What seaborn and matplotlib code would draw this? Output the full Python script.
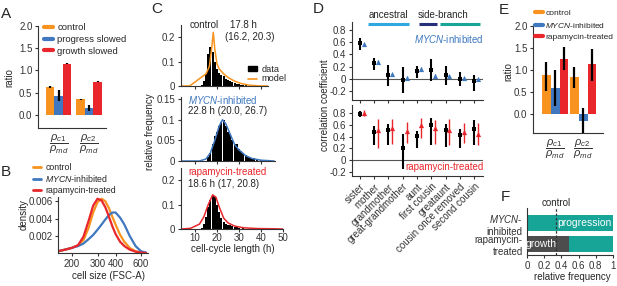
import numpy as np
import pandas as pd
import matplotlib
matplotlib.use("Agg")
import matplotlib.pyplot as plt
import matplotlib.transforms as mtransforms
from matplotlib.lines import Line2D
import seaborn as sns

# ---------------- data ----------------
# A
ratio_labels = [r"$\dfrac{\rho_{c1}}{\rho_{md}}$", r"$\dfrac{\rho_{c2}}{\rho_{md}}$"]
a_conditions = ["control", "progress slowed", "growth slowed"]
a_values = [[0.62, 0.35], [0.43, 0.15], [1.15, 0.74]]
a_err_lo = [[0.61, 0.34], [0.32, 0.08], [1.14, 0.73]]
a_err_hi = [[0.64, 0.36], [0.55, 0.21], [1.16, 0.75]]

# B
b_conditions = ["control", "MYCN-inhibited", "rapamycin-treated"]
b_size = [160, 180, 200, 220, 240, 260, 280, 300, 320, 340, 360, 380, 400, 430, 460, 500, 550, 600, 650]
b_control = [0.0002, 0.0004, 0.0006, 0.0009, 0.0015, 0.0029, 0.0047, 0.0059, 0.0063, 0.0060, 0.0052,
             0.0042, 0.0033, 0.0021, 0.0013, 0.0006, 0.0002, 0.00008, 0.0]
b_mycn = [0.0002, 0.0004, 0.0006, 0.0008, 0.0011, 0.0016, 0.0021, 0.0027, 0.0033, 0.0039, 0.0044,
          0.0047, 0.0047, 0.0041, 0.0033, 0.0020, 0.0008, 0.0002, 0.00005]
b_rapa = [0.0002, 0.0004, 0.0006, 0.0009, 0.0019, 0.0037, 0.0055, 0.0063, 0.0061, 0.0053, 0.0042,
          0.0031, 0.0022, 0.0013, 0.0008, 0.0004, 0.00015, 0.00005, 0.0]

# C
c_hours = list(range(13, 41))
c_ctrl_hist = [0.005, 0.02, 0.05, 0.13, 0.16, 0.14, 0.10, 0.07, 0.055, 0.045, 0.04, 0.03, 0.025, 0.02,
               0.018, 0.012, 0.01, 0.01, 0.006, 0.004, 0.003, 0.0, 0.002, 0.0, 0.0, 0.0, 0.0, 0.0]
c_mycn_hist = [0.0, 0.0, 0.0, 0.01, 0.02, 0.04, 0.06, 0.07, 0.085, 0.095, 0.10, 0.085, 0.07, 0.065,
               0.05, 0.04, 0.04, 0.03, 0.025, 0.02, 0.015, 0.01, 0.01, 0.005, 0.007, 0.003, 0.0, 0.002]
c_rapa_hist = [0.005, 0.02, 0.05, 0.09, 0.12, 0.14, 0.13, 0.10, 0.07, 0.045, 0.03, 0.02, 0.018, 0.015,
               0.012, 0.01, 0.008, 0.005, 0.0, 0.004, 0.0, 0.002, 0.0, 0.0, 0.0, 0.0, 0.0, 0.0]
c_ctrl_model_h = [4, 7.5, 15, 16.5, 17.5, 18.3, 19, 20, 21, 23, 25, 28, 31, 35, 40, 43]
c_ctrl_model = [0.0, 0.0, 0.05, 0.08, 0.15, 0.22, 0.15, 0.09, 0.07, 0.05, 0.035, 0.02, 0.01, 0.003, 0.0, 0.0]
c_mycn_model_h = [4, 12, 15, 17, 19, 21, 22.5, 24, 26, 28, 30, 33, 36, 40, 46]
c_mycn_model = [0.0, 0.0, 0.005, 0.02, 0.05, 0.085, 0.10, 0.09, 0.065, 0.04, 0.027, 0.013, 0.006, 0.002, 0.0]
c_rapa_model_h = [4, 8, 12, 14, 16, 18, 19.5, 21, 23, 25, 28, 32, 38, 45, 50]
c_rapa_model = [0.0, 0.003, 0.02, 0.05, 0.10, 0.14, 0.13, 0.09, 0.045, 0.025, 0.012, 0.005, 0.002, 0.001, 0.0]
c_texts = [("control", "17.8 h", "(16.2, 20.3)"),
           ("MYCN-inhibited", "22.8 h (20.0, 26.7)"),
           ("rapamycin-treated", "18.6 h (17, 20.8)")]

# D
d_relations = ["sister", "mother", "grandmother", "great-grandmother", "aunt", "first cousin",
               "greataunt", "cousin once removed", "second cousin"]
d_top_data = [0.58, 0.26, 0.07, -0.02, 0.13, 0.15, 0.06, 0.0, -0.04]
d_top_data_lo = [0.47, 0.14, -0.12, -0.24, 0.02, -0.03, -0.10, -0.12, -0.20]
d_top_data_hi = [0.67, 0.34, 0.22, 0.19, 0.21, 0.32, 0.21, 0.11, 0.06]
d_top_model = [0.57, 0.28, 0.08, 0.02, 0.16, 0.05, 0.05, 0.01, 0.0]
d_top_model_err = [0.02, 0.02, 0.02, 0.02, 0.03, 0.03, 0.02, 0.02, 0.02]
d_bot_data = [0.78, 0.48, 0.51, 0.20, 0.41, 0.60, 0.51, 0.42, 0.53]
d_bot_data_lo = [0.73, 0.25, 0.25, -0.15, 0.20, 0.25, 0.22, 0.20, 0.25]
d_bot_data_hi = [0.83, 0.58, 0.62, 0.45, 0.50, 0.72, 0.62, 0.53, 0.68]
d_bot_model = [0.80, 0.52, 0.55, 0.49, 0.60, 0.54, 0.52, 0.48, 0.45]
d_bot_model_lo = [0.75, 0.20, 0.28, 0.30, 0.38, 0.28, 0.25, 0.30, 0.25]
d_bot_model_hi = [0.85, 0.70, 0.70, 0.65, 0.72, 0.68, 0.70, 0.63, 0.63]

# E
e_conditions = ["control", "MYCN-inhibited", "rapamycin-treated"]
e_values = [[0.88, 0.85], [0.59, -0.15], [1.25, 1.13]]
e_err_lo = [[0.53, 0.60], [0.18, -0.45], [1.00, 0.76]]
e_err_hi = [[1.18, 1.07], [0.99, 0.13], [1.52, 1.48]]

# F
f_labels = ["$\\it{MYCN}$-\ninhibited", "rapamycin-\ntreated"]
f_growth = [0.0, 0.49]
f_progression = [1.0, 0.51]
f_control = 0.34

# ---------------- style ----------------
sns.set_theme(style="ticks")
plt.rcParams["font.family"] = ["Liberation Sans", "DejaVu Sans"]
plt.rcParams["mathtext.fontset"] = "custom"
plt.rcParams["mathtext.rm"] = "Liberation Sans"
plt.rcParams["mathtext.it"] = "Liberation Sans:italic"
plt.rcParams["mathtext.bf"] = "Liberation Sans:bold"
plt.rcParams.update({"font.size": 7, "axes.linewidth": 0.8, "xtick.major.width": 0.8,
                     "ytick.major.width": 0.8, "xtick.major.size": 2.5, "ytick.major.size": 2.5,
                     "xtick.labelsize": 7, "ytick.labelsize": 7, "xtick.major.pad": 1.5,
                     "ytick.major.pad": 1.5, "axes.edgecolor": "#333333",
                     "xtick.color": "#333333", "ytick.color": "#333333"})

ORANGE = "#f7931e"
BLUE = "#3f78bf"
RED = "#e8262b"
TEAL = "#17a597"
GRAY = "#4d4d4d"
LBLUE = "#2fa8e0"
NAVY = "#262f7a"

W, H = 617, 286
fig = plt.figure(figsize=(W / 100, H / 100), dpi=100)


def add_ax(l, t, r, b):
    return fig.add_axes([l / W, 1 - b / H, (r - l) / W, (b - t) / H])


def ftext(x, y, s, **kw):
    kw.setdefault("ha", "center")
    kw.setdefault("va", "center")
    return fig.text(x / W, 1 - y / H, s, **kw)


def fig_legend(ax, handles, labels, x, y, **kw):
    opts = dict(loc="upper left", bbox_to_anchor=(x / W, 1 - y / H), bbox_transform=fig.transFigure,
                frameon=False, handlelength=0.9, handletextpad=0.5, labelspacing=0.3, borderpad=0,
                borderaxespad=0, fontsize=6.6)
    opts.update(kw)
    return ax.legend(handles, labels, **opts)


def grouped_bars(ax, conditions, values, lo, hi, colors, width):
    rows = []
    for cond, vals in zip(conditions, values):
        for lab, v in zip(ratio_labels, vals):
            rows.append({"ratio": lab, "condition": cond, "value": v})
    df = pd.DataFrame(rows)
    sns.barplot(data=df, x="ratio", y="value", hue="condition", hue_order=conditions,
                palette=colors, errorbar=None, width=width, saturation=1, legend=False, ax=ax,
                linewidth=0)
    for cont, l, h in zip(ax.containers, lo, hi):
        for bar, a, b in zip(cont, l, h):
            cx = bar.get_x() + bar.get_width() / 2
            ax.plot([cx, cx], [a, b], color="black", lw=1.6, solid_capstyle="butt")
    ax.set_xlabel("")
    ax.set_ylabel("")
    ax.tick_params(axis="x", length=0, labelsize=8, pad=3)
    sns.despine(ax=ax)


# ---------------- A ----------------
axA = add_ax(38, 26, 108, 128)
grouped_bars(axA, a_conditions, a_values, a_err_lo, a_err_hi, [ORANGE, BLUE, RED], 0.83)
axA.set_ylim(-0.3, 2.0)
axA.set_xlim(-0.68, 1.62)
axA.set_yticks([0, 0.5, 1.0, 1.5, 2.0])
axA.set_yticklabels(["0.0", "0.5", "1.0", "1.5", "2.0"])
axA.spines["bottom"].set_bounds(-0.68, 1.55)
fig_legend(axA, [Line2D([0], [0], color=c, lw=3) for c in [ORANGE, BLUE, RED]], a_conditions, 44, 23,
           fontsize=6.8)
ftext(9, 78, "ratio", rotation=90)
ftext(6, 14, "A", fontsize=11)

# ---------------- B ----------------
axB = add_ax(58, 197, 148, 253)
for vals, col in zip([b_control, b_mycn, b_rapa], [ORANGE, BLUE, RED]):
    sns.lineplot(x=b_size, y=vals, color=col, lw=1.6, ax=axB)
axB.set_xscale("log")
axB.set_xlim(160, 670)
axB.set_ylim(0, 0.0065)
axB.set_xticks([200, 300, 400, 600])
axB.set_xticklabels(["200", "300", "400", "600"])
axB.xaxis.set_minor_locator(matplotlib.ticker.NullLocator())
axB.set_yticks([0.002, 0.004, 0.006])
axB.set_yticklabels(["0.002", "0.004", "0.006"])
sns.despine(ax=axB)
fig_legend(axB, [Line2D([0], [0], color=c, lw=2) for c in [ORANGE, BLUE, RED]],
           ["control", "$\\it{MYCN}$-inhibited", "rapamycin-treated"], 33, 163, labelspacing=0.15,
           fontsize=6.3)
ftext(24, 215, "density", rotation=90)
ftext(109, 276, "cell size (FSC-A)")
ftext(6, 172, "B", fontsize=11)

# ---------------- C ----------------
c_specs = [
    ((181, 25, 268, 86), (3.6, 43.2), (0, 0.25), [0, 0.1, 0.2], ["0", "0.1", "0.2"],
     c_ctrl_hist, c_ctrl_model_h, c_ctrl_model, ORANGE),
    ((181, 97, 275, 161), (3.6, 46.4), (0, 0.155), [0, 0.05, 0.1, 0.15], ["0", "0.05", "0.1", "0.15"],
     c_mycn_hist, c_mycn_model_h, c_mycn_model, BLUE),
    ((181, 168, 283, 229), (3.6, 50), (0, 0.25), [0, 0.1, 0.2], ["0", "0.1", "0.2"],
     c_rapa_hist, c_rapa_model_h, c_rapa_model, RED),
]
c_axes = []
for i, (box, xl, yl, yt, ytl, hist, mh, mv, col) in enumerate(c_specs):
    ax = add_ax(*box)
    sns.histplot(x=c_hours, weights=hist, discrete=True, color="black", alpha=1, edgecolor="none",
                 linewidth=0, shrink=0.92, ax=ax)
    sns.lineplot(x=mh, y=mv, color=col, lw=1.1, ax=ax)
    ax.set_xlim(*xl)
    ax.set_ylim(*yl)
    ax.set_yticks(yt)
    ax.set_yticklabels(ytl)
    ax.set_xticks([10, 20, 30, 40, 50] if i == 2 else [10, 20, 30, 40])
    if i != 2:
        ax.set_xticklabels([])
    ax.tick_params(axis="x", length=2, pad=1)
    ax.set_xlabel("")
    ax.set_ylabel("")
    sns.despine(ax=ax)
    c_axes.append(ax)
ftext(190, 25, c_texts[0][0], ha="left")
ftext(230, 25, c_texts[0][1], ha="left")
ftext(225, 37, c_texts[0][2], ha="left")
fig_legend(c_axes[0], [matplotlib.patches.Patch(color="black"), Line2D([0], [0], color=ORANGE, lw=1.2)],
           ["data", "model"], 248, 65, labelspacing=0.05, handlelength=1.0, handleheight=0.5)
ftext(188, 100, "$\\it{MYCN}$-inhibited", ha="left", color=BLUE)
ftext(188, 111, c_texts[1][1], ha="left")
ftext(188, 172, c_texts[2][0], ha="left", color=RED)
ftext(188, 184, c_texts[2][1], ha="left")
ftext(150, 132, "relative frequency", rotation=90)
ftext(233, 249, "cell-cycle length (h)")
ftext(157, 9, "C", fontsize=11)

# ---------------- D ----------------
xpos = np.arange(len(d_relations))
axDt = add_ax(352, 22, 483, 100)
axDb = add_ax(352, 105, 483, 176)
for ax, mean, lo, hi, mod, mlo, mhi, col, ylim in [
        (axDt, d_top_data, d_top_data_lo, d_top_data_hi, d_top_model,
         np.array(d_top_model) - np.array(d_top_model_err), np.array(d_top_model) + np.array(d_top_model_err),
         BLUE, (-0.348, 0.931)),
        (axDb, d_bot_data, d_bot_data_lo, d_bot_data_hi, d_bot_model, d_bot_model_lo, d_bot_model_hi,
         RED, (-0.268, 0.936))]:
    ax.axhline(0, color="#555555", lw=0.8, zorder=0)
    ax.vlines(xpos, lo, hi, color="black", lw=1.5)
    sns.scatterplot(x=xpos, y=mean, marker="s", color="black", s=9, linewidth=0, ax=ax, zorder=3)
    ax.vlines(xpos + 0.27, mlo, mhi, color=col, lw=1.0)
    sns.scatterplot(x=xpos + 0.27, y=mod, marker="^", color=col, s=14, linewidth=0, ax=ax, zorder=3)
    ax.set_ylim(*ylim)
    ax.set_xlim(-0.56, 8.63)
    ax.set_yticks([-0.2, 0, 0.2, 0.4, 0.6, 0.8])
    ax.set_yticklabels(["-0.2", "0", "0.2", "0.4", "0.6", "0.8"])
    ax.set_xticks(xpos)
    sns.despine(ax=ax)
axDt.set_xticklabels([])
axDb.set_xticklabels(d_relations, rotation=45, ha="right", rotation_mode="anchor", fontsize=7)
ftext(484, 39, "$\\it{MYCN}$-inhibited", ha="right", color=BLUE)
ftext(484, 167, "rapamycin-treated", ha="right", color=RED)
trans = mtransforms.blended_transform_factory(axDt.transData, axDt.transAxes)
for x0, x1, col in [(0.56, 3.44, LBLUE), (4.14, 5.40, NAVY), (5.61, 8.42, TEAL)]:
    axDt.plot([x0, x1], [0.975, 0.975], color=col, lw=2.2, transform=trans, clip_on=False,
              solid_capstyle="butt")
ftext(388, 15, "ancestral")
ftext(443, 15, "side-branch")
ftext(325, 105, "correlation coefficient", rotation=90)
ftext(318, 9, "D", fontsize=11)

# ---------------- E ----------------
axE = add_ax(533, 26, 603, 133)
grouped_bars(axE, e_conditions, e_values, e_err_lo, e_err_hi, [ORANGE, BLUE, RED], 0.95)
axE.set_ylim(-0.43, 2.0)
axE.set_xlim(-0.79, 1.71)
axE.set_yticks([0, 0.5, 1.0, 1.5, 2.0])
axE.set_yticklabels(["0.0", "0.5", "1.0", "1.5", "2.0"])
fig_legend(axE, [Line2D([0], [0], color=c, lw=3) for c in [ORANGE, BLUE, RED]],
           ["control", "$\\it{MYCN}$-inhibited", "rapamycin-treated"], 535, 9, labelspacing=0.45,
           fontsize=6.0, handletextpad=0.35)
ftext(508, 72, "ratio", rotation=90)
ftext(504, 10, "E", fontsize=11)

# ---------------- F ----------------
axF = add_ax(527, 208, 613, 255)
f_total = [g + p for g, p in zip(f_growth, f_progression)]
sns.barplot(x=f_total, y=f_labels, orient="h", color=TEAL, saturation=1, width=0.76, ax=axF, linewidth=0)
sns.barplot(x=f_growth, y=f_labels, orient="h", color=GRAY, saturation=1, width=0.76, ax=axF, linewidth=0)
axF.set_xlim(0, 1)
axF.set_ylim(1.524, -0.714)
axF.set_xticks([0, 0.2, 0.4, 0.6, 0.8, 1.0])
axF.set_xticklabels(["0", "0.2", "0.4", "0.6", "0.8", "1"])
axF.tick_params(axis="y", length=0, pad=3)
for t in axF.get_yticklabels():
    t.set_multialignment("right")
axF.axvline(f_control, color="#333333", lw=0.9, ls=(0, (2, 1.5)))
axF.text(0.67, 0, "progression", color="white", ha="center", va="center", fontsize=7.5)
axF.text(0.16, 1, "growth", color="white", ha="center", va="center", fontsize=7.5)
axF.set_xlabel("")
axF.set_ylabel("")
sns.despine(ax=axF)
ftext(556, 203, "control")
ftext(572, 277, "relative frequency")
ftext(505, 197, "F", fontsize=11)

fig.savefig("out.png", dpi=100)
